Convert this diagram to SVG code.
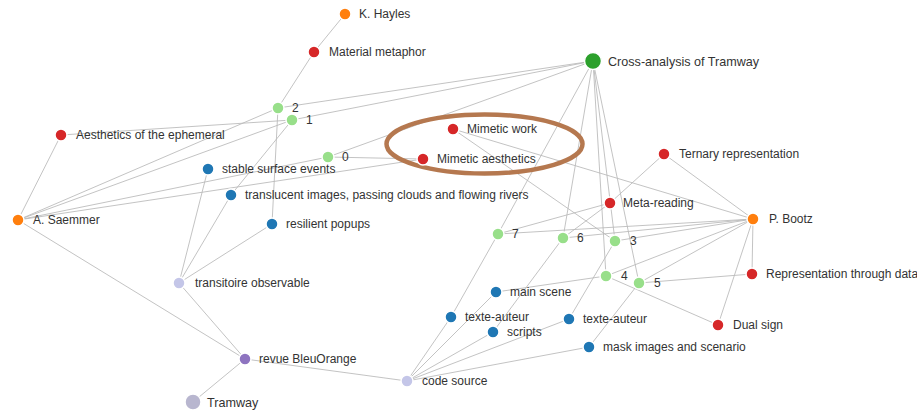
<svg xmlns="http://www.w3.org/2000/svg" width="917" height="414" viewBox="0 0 917 414">
<style>
  .bg{fill:#ffffff}
  .links line{stroke:#b8b8b8;stroke-width:1;stroke-opacity:0.85}
  .node circle{stroke:#ffffff;stroke-width:1.5}
  .node text{font-family:"Liberation Sans",Arial,sans-serif;font-size:12px;fill:#333333}
  .big text{font-size:12.6px}
  .red{fill:#d62728}
  .orange{fill:#ff7f0e}
  .blue{fill:#1f77b4}
  .lgreen{fill:#98df8a}
  .green{fill:#2ca02c}
  .purple{fill:#8e74c0}
  .lav{fill:#c4c6e8}
  .grey{fill:#b8b6cf}
</style>
<rect class="bg" x="0" y="0" width="917" height="414"/>
<g id="connectors" class="links">
  <line x1="345" y1="14" x2="314" y2="52"/>
  <line x1="314" y1="52" x2="278" y2="108"/>
  <line x1="278" y1="108" x2="18" y2="220"/>
  <line x1="278" y1="108" x2="593" y2="61"/>
  <line x1="278" y1="108" x2="272" y2="224"/>
  <line x1="292" y1="120" x2="61" y2="135"/>
  <line x1="292" y1="120" x2="18" y2="220"/>
  <line x1="292" y1="120" x2="593" y2="61"/>
  <line x1="292" y1="120" x2="231" y2="195"/>
  <line x1="328" y1="157" x2="18" y2="220"/>
  <line x1="328" y1="157" x2="423" y2="159"/>
  <line x1="328" y1="157" x2="593" y2="61"/>
  <line x1="18" y1="220" x2="61" y2="135"/>
  <line x1="18" y1="220" x2="423" y2="159"/>
  <line x1="18" y1="220" x2="245" y2="359"/>
  <line x1="453" y1="129" x2="753" y2="219"/>
  <line x1="453" y1="129" x2="615" y2="241"/>
  <line x1="593" y1="61" x2="498" y2="234"/>
  <line x1="593" y1="61" x2="563" y2="238"/>
  <line x1="593" y1="61" x2="606" y2="276"/>
  <line x1="593" y1="61" x2="615" y2="241"/>
  <line x1="593" y1="61" x2="639" y2="283"/>
  <line x1="610" y1="203" x2="498" y2="234"/>
  <line x1="610" y1="203" x2="563" y2="238"/>
  <line x1="664" y1="154" x2="610" y2="203"/>
  <line x1="664" y1="154" x2="753" y2="219"/>
  <line x1="753" y1="219" x2="498" y2="234"/>
  <line x1="753" y1="219" x2="563" y2="238"/>
  <line x1="753" y1="219" x2="615" y2="241"/>
  <line x1="753" y1="219" x2="606" y2="276"/>
  <line x1="753" y1="219" x2="639" y2="283"/>
  <line x1="753" y1="219" x2="752" y2="274"/>
  <line x1="753" y1="219" x2="718" y2="325"/>
  <line x1="639" y1="283" x2="752" y2="274"/>
  <line x1="606" y1="276" x2="718" y2="325"/>
  <line x1="606" y1="276" x2="496" y2="292"/>
  <line x1="615" y1="241" x2="569" y2="319"/>
  <line x1="639" y1="283" x2="589" y2="347"/>
  <line x1="563" y1="238" x2="493" y2="332"/>
  <line x1="498" y1="234" x2="451" y2="317"/>
  <line x1="407" y1="381" x2="451" y2="317"/>
  <line x1="407" y1="381" x2="496" y2="292"/>
  <line x1="407" y1="381" x2="493" y2="332"/>
  <line x1="407" y1="381" x2="569" y2="319"/>
  <line x1="407" y1="381" x2="589" y2="347"/>
  <line x1="407" y1="381" x2="245" y2="359"/>
  <line x1="245" y1="359" x2="179" y2="283"/>
  <line x1="245" y1="359" x2="193" y2="402"/>
  <line x1="179" y1="283" x2="208" y2="169"/>
  <line x1="179" y1="283" x2="231" y2="195"/>
  <line x1="179" y1="283" x2="272" y2="224"/>
</g>
<ellipse cx="484.5" cy="144" rx="98" ry="29.5" fill="none" stroke="#b5784f" stroke-width="4.5"/>
<g id="n-khayles" class="node"><circle class="orange" cx="345" cy="14" r="6"/><text x="359" y="18">K. Hayles</text></g>
<g id="n-material-metaphor" class="node"><circle class="red" cx="314" cy="52" r="6"/><text x="329" y="56">Material metaphor</text></g>
<g id="n-cross-analysis" class="node big"><circle class="green" cx="593" cy="61" r="8.5"/><text x="608" y="65.5">Cross-analysis of Tramway</text></g>
<g id="n-2" class="node"><circle class="lgreen" cx="278" cy="108" r="6"/><text x="292" y="112">2</text></g>
<g id="n-1" class="node"><circle class="lgreen" cx="292" cy="120" r="6"/><text x="306" y="124">1</text></g>
<g id="n-aesthetics-ephemeral" class="node"><circle class="red" cx="61" cy="135" r="6"/><text x="76" y="139">Aesthetics of the ephemeral</text></g>
<g id="n-mimetic-work" class="node"><circle class="red" cx="453" cy="129" r="6"/><text x="467" y="133">Mimetic work</text></g>
<g id="n-0" class="node"><circle class="lgreen" cx="328" cy="157" r="6"/><text x="342" y="161">0</text></g>
<g id="n-mimetic-aesthetics" class="node"><circle class="red" cx="423" cy="159" r="6"/><text x="437" y="163">Mimetic aesthetics</text></g>
<g id="n-ternary" class="node"><circle class="red" cx="664" cy="154" r="6"/><text x="679" y="158">Ternary representation</text></g>
<g id="n-stable" class="node"><circle class="blue" cx="208" cy="169" r="6"/><text x="222" y="173">stable surface events</text></g>
<g id="n-translucent" class="node"><circle class="blue" cx="231" cy="195" r="6"/><text x="245" y="199">translucent images, passing clouds and flowing rivers</text></g>
<g id="n-meta-reading" class="node"><circle class="red" cx="610" cy="203" r="6"/><text x="623" y="207">Meta-reading</text></g>
<g id="n-saemmer" class="node"><circle class="orange" cx="18" cy="220" r="6"/><text x="33" y="224">A. Saemmer</text></g>
<g id="n-bootz" class="node"><circle class="orange" cx="753" cy="219" r="6"/><text x="769" y="223">P. Bootz</text></g>
<g id="n-resilient" class="node"><circle class="blue" cx="272" cy="224" r="6"/><text x="286" y="228">resilient popups</text></g>
<g id="n-7" class="node"><circle class="lgreen" cx="498" cy="234" r="6"/><text x="512" y="238">7</text></g>
<g id="n-6" class="node"><circle class="lgreen" cx="563" cy="238" r="6"/><text x="577" y="242">6</text></g>
<g id="n-3" class="node"><circle class="lgreen" cx="615" cy="241" r="6"/><text x="630" y="245">3</text></g>
<g id="n-4" class="node"><circle class="lgreen" cx="606" cy="276" r="6"/><text x="621" y="280">4</text></g>
<g id="n-5" class="node"><circle class="lgreen" cx="639" cy="283" r="6"/><text x="654" y="287">5</text></g>
<g id="n-rep-data" class="node"><circle class="red" cx="752" cy="274" r="6"/><text x="766" y="278">Representation through data</text></g>
<g id="n-transitoire" class="node"><circle class="lav" cx="179" cy="283" r="6"/><text x="195" y="287">transitoire observable</text></g>
<g id="n-main-scene" class="node"><circle class="blue" cx="496" cy="292" r="6"/><text x="510" y="296">main scene</text></g>
<g id="n-texte-auteur-1" class="node"><circle class="blue" cx="451" cy="317" r="6"/><text x="465" y="321">texte-auteur</text></g>
<g id="n-texte-auteur-2" class="node"><circle class="blue" cx="569" cy="319" r="6"/><text x="583" y="323">texte-auteur</text></g>
<g id="n-scripts" class="node"><circle class="blue" cx="493" cy="332" r="6"/><text x="507" y="336">scripts</text></g>
<g id="n-dual-sign" class="node"><circle class="red" cx="718" cy="325" r="6"/><text x="733" y="329">Dual sign</text></g>
<g id="n-mask" class="node"><circle class="blue" cx="589" cy="347" r="6"/><text x="603" y="351">mask images and scenario</text></g>
<g id="n-revue" class="node"><circle class="purple" cx="245" cy="359" r="6"/><text x="259" y="363">revue BleuOrange</text></g>
<g id="n-code-source" class="node"><circle class="lav" cx="407" cy="381" r="6"/><text x="422" y="385">code source</text></g>
<g id="n-tramway" class="node big"><circle class="grey" cx="193" cy="402" r="8"/><text x="207" y="407">Tramway</text></g>
</svg>
